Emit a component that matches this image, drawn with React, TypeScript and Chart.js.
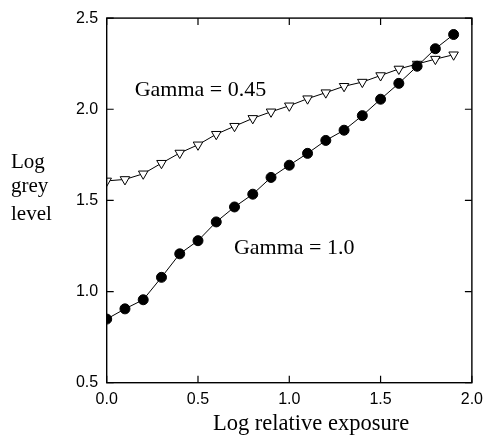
import React, { useEffect, useRef } from "react";
import { Chart, registerables } from "chart.js";

Chart.register(...registerables);

const exposure = [0, 0.1, 0.2, 0.3, 0.4, 0.5, 0.6, 0.7, 0.8, 0.9, 1.0, 1.1, 1.2, 1.3, 1.4, 1.5, 1.6, 1.7, 1.8, 1.9];
const gamma10 = [0.849, 0.905, 0.955, 1.078, 1.207, 1.279, 1.382, 1.464, 1.534, 1.626, 1.693, 1.758, 1.829, 1.885, 1.965, 2.055, 2.142, 2.236, 2.332, 2.41];
const gamma045 = [1.607, 1.615, 1.646, 1.704, 1.76, 1.805, 1.863, 1.907, 1.95, 1.986, 2.019, 2.058, 2.091, 2.126, 2.149, 2.185, 2.221, 2.248, 2.275, 2.299];
const xTicks = [0, 0.5, 1.0, 1.5, 2.0];
const yTicks = [0.5, 1.0, 1.5, 2.0, 2.5];
const annotations = [
  { text: "Gamma = 0.45", x: 0.153, y: 2.075 },
  { text: "Gamma = 1.0", x: 0.697, y: 1.205 },
];
const yTitleLines = ["Log", "grey", "level"];
const xTitle = "Log relative exposure";

const SERIF = '"Liberation Serif", "Times New Roman", serif';
const SANS = '"Liberation Sans", Arial, Helvetica, sans-serif';

const framePlugin = {
  id: "frame",
  afterDatasetsDraw(chart: any) {
    const { ctx, chartArea: a, scales } = chart;
    const xs = scales.x;
    const ys = scales.y;
    ctx.save();
    ctx.strokeStyle = "#000";
    ctx.lineWidth = 1.4;
    ctx.strokeRect(a.left, a.top, a.right - a.left, a.bottom - a.top);
    const L = 7;
    ctx.lineWidth = 1.2;
    ctx.beginPath();
    xTicks.forEach((v) => {
      const px = xs.getPixelForValue(v);
      ctx.moveTo(px, a.bottom);
      ctx.lineTo(px, a.bottom - L);
      ctx.moveTo(px, a.top);
      ctx.lineTo(px, a.top + L);
    });
    yTicks.forEach((v) => {
      const py = ys.getPixelForValue(v);
      ctx.moveTo(a.left, py);
      ctx.lineTo(a.left + L, py);
      ctx.moveTo(a.right, py);
      ctx.lineTo(a.right - L, py);
    });
    ctx.stroke();

    ctx.fillStyle = "#000";
    ctx.font = `22px ${SERIF}`;
    ctx.textBaseline = "alphabetic";
    ctx.textAlign = "left";
    annotations.forEach((an) => {
      ctx.fillText(an.text, xs.getPixelForValue(an.x), ys.getPixelForValue(an.y));
    });

    ctx.font = `21px ${SERIF}`;
    const baselines = [168, 192, 220];
    yTitleLines.forEach((t, i) => ctx.fillText(t, 11, baselines[i]));

    ctx.font = `22.5px ${SERIF}`;
    ctx.textAlign = "left";
    ctx.fillText(xTitle, 213, 430);
    ctx.restore();
  },
};

export default function App() {
  const ref = useRef<HTMLCanvasElement>(null);
  useEffect(() => {
    const canvas = ref.current;
    if (!canvas) return;
    const chart = new Chart(canvas, {
      type: "line",
      data: {
        datasets: [
          {
            label: "Gamma = 1.0",
            data: exposure.map((x, i) => ({ x, y: gamma10[i] })),
            borderColor: "#000",
            borderWidth: 1,
            backgroundColor: "#000",
            pointStyle: "circle",
            pointRadius: 5,
            pointBorderWidth: 1,
            pointBackgroundColor: "#000",
            pointBorderColor: "#000",
            tension: 0,
          },
          {
            label: "Gamma = 0.45",
            data: exposure.map((x, i) => ({ x, y: gamma045[i] })),
            borderColor: "#000",
            borderWidth: 1,
            backgroundColor: "#fff",
            pointStyle: "triangle",
            pointRotation: 180,
            pointRadius: 5.5,
            pointBorderWidth: 1,
            pointBackgroundColor: "#fff",
            pointBorderColor: "#000",
            tension: 0,
          },
        ],
      },
      options: {
        responsive: false,
        animation: false,
        events: [],
        layout: { padding: { top: 14, right: 13.3, left: 0, bottom: 0 } },
        plugins: {
          legend: { display: false },
          tooltip: { enabled: false },
          title: { display: false },
        },
        scales: {
          x: {
            type: "linear",
            min: 0,
            max: 2,
            afterFit: (s: any) => {
              s.height = 54.3;
            },
            afterBuildTicks: (s: any) => {
              s.ticks = xTicks.map((v) => ({ value: v }));
            },
            grid: { display: false, drawTicks: false },
            border: { display: false },
            ticks: {
              padding: 7,
              color: "#000",
              font: { family: SANS, size: 16 },
              callback: (v: any) => Number(v).toFixed(1),
              maxRotation: 0,
            },
          },
          y: {
            type: "linear",
            min: 0.5,
            max: 2.5,
            afterFit: (s: any) => {
              s.width = 106.7;
            },
            afterBuildTicks: (s: any) => {
              s.ticks = yTicks.map((v) => ({ value: v }));
            },
            grid: { display: false, drawTicks: false },
            border: { display: false },
            ticks: {
              padding: 8.5,
              color: "#000",
              font: { family: SANS, size: 16 },
              callback: (v: any) => Number(v).toFixed(1),
            },
          },
        },
      },
      plugins: [framePlugin],
    });
    return () => chart.destroy();
  }, []);
  return (
    <div style={{ position: "absolute", left: 0, top: 0, width: 490, height: 437, background: "#fff" }}>
      <canvas ref={ref} width={490} height={437} style={{ display: "block" }} />
    </div>
  );
}
